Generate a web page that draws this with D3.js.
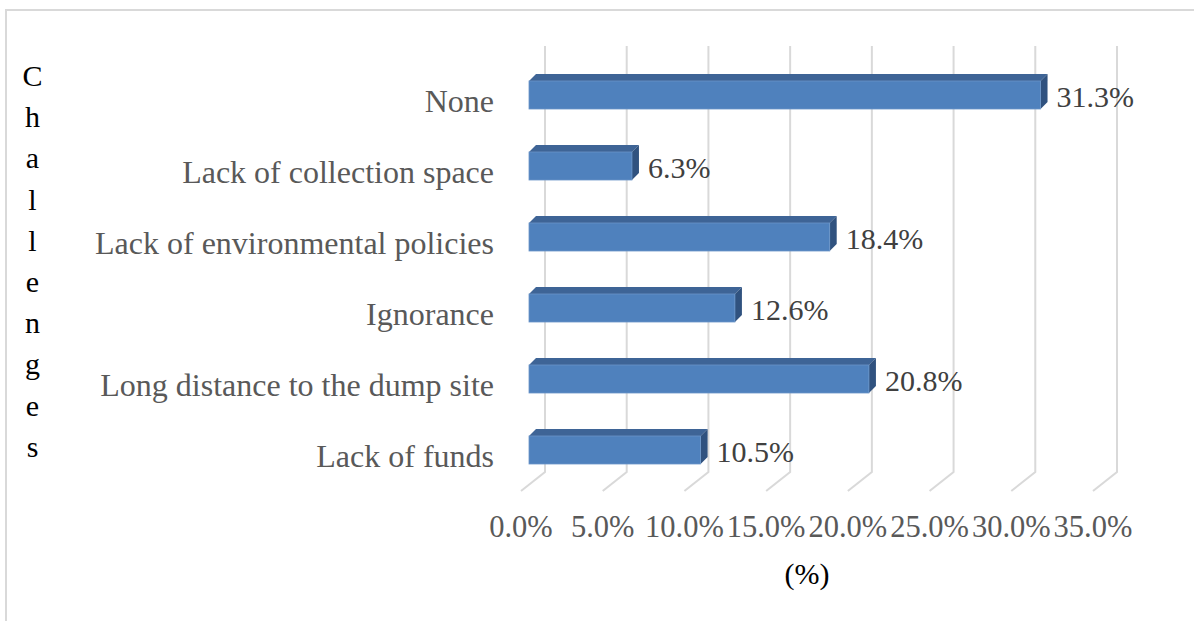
<!DOCTYPE html>
<html>
<head>
<meta charset="utf-8">
<script src="https://cdn.jsdelivr.net/npm/d3@7"></script>
<style>
  html, body { margin: 0; padding: 0; background: #fff; }
  svg { display: block; }
  text { font-family: "Liberation Serif", "Times New Roman", serif; }
</style>
</head>
<body>
<svg id="chart" width="1194" height="621"></svg>
<script>
const categories = ["None", "Lack of collection space", "Lack of environmental policies", "Ignorance", "Long distance to the dump site", "Lack of funds"];
const values = [31.3, 6.3, 18.4, 12.6, 20.8, 10.5];
const ticks = [0, 5, 10, 15, 20, 25, 30, 35];
const yTitle = "Challenges";
const xTitle = "(%)";

const svg = d3.select("#chart");

// chart border (top + left visible)
svg.append("path")
  .attr("d", "M6,621 L6,10 L1194,10")
  .attr("fill", "none").attr("stroke", "#d9d9d9").attr("stroke-width", 2);

// scales
const x = d3.scaleLinear().domain([0, 35]).range([0, 572]);
const backX0 = 545, barX0 = 529, floorX0 = 521;
const wallTop = 46, wallBottom = 472, floorY = 491;
const y = d3.scalePoint().domain(categories).range([95, 450]);
const barH = 28, depth = 7;

// gridlines: back wall + floor diagonal
const grid = svg.append("g");
ticks.forEach(t => {
  grid.append("path")
    .attr("d", `M${backX0 + x(t)},${wallTop} L${backX0 + x(t)},${wallBottom} L${floorX0 + x(t)},${floorY}`)
    .attr("fill", "none").attr("stroke", "#d9d9d9").attr("stroke-width", 2);
});

// tick labels
svg.append("g").selectAll("text").data(ticks).join("text")
  .attr("x", d => floorX0 + x(d))
  .attr("y", 537)
  .attr("text-anchor", "middle")
  .attr("font-size", 30.5)
  .attr("fill", "#595959")
  .text(d => d3.format(".1f")(d) + "%");

// bars (3D)
const data = categories.map((c, i) => ({ c, v: values[i] }));
const bars = svg.append("g").selectAll("g").data(data).join("g");
bars.append("path") // top face
  .attr("d", d => {
    const x0 = barX0, x1 = barX0 + x(d.v), yt = y(d.c) - barH / 2;
    return `M${x0},${yt} L${x0 + depth},${yt - depth} L${x1 + depth},${yt - depth} L${x1},${yt} Z`;
  })
  .attr("fill", "#3e6496");
bars.append("path") // side face
  .attr("d", d => {
    const x1 = barX0 + x(d.v), yt = y(d.c) - barH / 2, yb = y(d.c) + barH / 2;
    return `M${x1},${yt} L${x1 + depth},${yt - depth} L${x1 + depth},${yb - depth} L${x1},${yb} Z`;
  })
  .attr("fill", "#30527f");
bars.append("rect") // front face
  .attr("x", barX0)
  .attr("y", d => y(d.c) - barH / 2)
  .attr("width", d => x(d.v))
  .attr("height", barH)
  .attr("fill", "#4f81bd")
  .attr("stroke", "#6a95c8").attr("stroke-width", 0.8);

// value labels
bars.append("text")
  .attr("x", d => barX0 + x(d.v) + 16)
  .attr("y", d => y(d.c) + 12)
  .attr("font-size", 30)
  .attr("fill", "#404040")
  .text(d => d3.format(".1f")(d.v) + "%");

// category labels
svg.append("g").selectAll("text").data(categories).join("text")
  .attr("x", 494)
  .attr("y", d => y(d) + 17)
  .attr("text-anchor", "end")
  .attr("font-size", 32)
  .attr("fill", "#595959")
  .text(d => d);

// y title: stacked letters
svg.append("g").selectAll("text").data(yTitle.split("")).join("text")
  .attr("x", 32.5)
  .attr("y", (d, i) => 86 + i * 41.2)
  .attr("text-anchor", "middle")
  .attr("font-size", 30)
  .attr("fill", "#000")
  .text(d => d);

// x title
svg.append("text")
  .attr("x", 807)
  .attr("y", 584)
  .attr("text-anchor", "middle")
  .attr("font-size", 30)
  .attr("fill", "#000")
  .text(xTitle);
</script>
</body>
</html>
